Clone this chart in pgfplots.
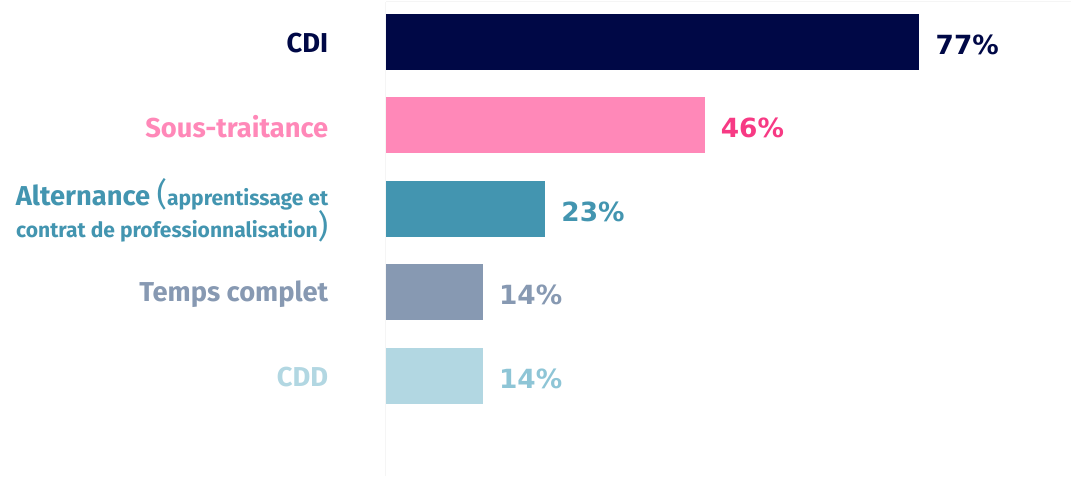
\documentclass[border=0pt]{standalone}
\usepackage{pgfplots}
\pgfplotsset{compat=1.18}
\usepackage{fontspec}
\setmainfont{Fira Sans}
\newfontfamily\valfont{DejaVu Sans}

\definecolor{cdi}{HTML}{000846}
\definecolor{sous}{HTML}{FF88B8}
\definecolor{sousval}{HTML}{F73A84}
\definecolor{alt}{HTML}{4395B0}
\definecolor{temps}{HTML}{8799B2}
\definecolor{cdd}{HTML}{B2D7E2}
\definecolor{cddval}{HTML}{8EC5D6}

\begin{document}
\begin{tikzpicture}
  \begin{axis}[
      xbar, scale only axis,
      width=513.75pt, height=355.5pt,
      xmin=0, xmax=98.8,
      ymin=-1.198, ymax=4.479,
      axis x line*=top, axis y line*=left,
      axis line style={draw=black!4, line width=0.75pt},
      xtick=\empty,
      ytick={0,1,2,3,4},
      yticklabels={
        \color{cdd}CDD,
        \color{temps}Temps complet,
        {\color{alt}Alternance {\fontsize{24}{24}\selectfont\mdseries(}{\fontsize{15.8}{24}\selectfont apprentissage et}\\\color{alt}{\fontsize{15.8}{24}\selectfont contrat de professionnalisation}{\fontsize{24}{24}\selectfont\mdseries)}},
        \color{sous}Sous-traitance,
        \color{cdi}CDI},
      major tick length=0pt,
      yticklabel style={anchor=east, inner sep=0pt, xshift=-43pt, yshift=-1pt, align=right,
        font=\bfseries\fontsize{20.5}{24}\selectfont},
      bar width=0.67, bar shift=0pt,
      point meta=x,
      nodes near coords={\pgfmathprintnumber{\pgfplotspointmeta}\%},
      nodes near coords style={anchor=west, inner sep=0pt, xshift=12pt, yshift=-2pt,
        font=\valfont\bfseries\fontsize{19.8}{20}\selectfont,
        /pgf/number format/assume math mode=true},
      clip=false
    ]
    % CDI
    \addplot[draw=none, fill=cdi, every node near coord/.append style={text=cdi}]
      coordinates {(77,4)};
    % Sous-traitance
    \addplot[draw=none, fill=sous, every node near coord/.append style={text=sousval}]
      coordinates {(46,3)};
    % Alternance
    \addplot[draw=none, fill=alt, every node near coord/.append style={text=alt}]
      coordinates {(23,2)};
    % Temps complet
    \addplot[draw=none, fill=temps, every node near coord/.append style={text=temps}]
      coordinates {(14,1)};
    % CDD
    \addplot[draw=none, fill=cdd, every node near coord/.append style={text=cddval}]
      coordinates {(14,0)};
  \end{axis}
  \path (current axis.north west) ++(-289.5pt,1.5pt);
\end{tikzpicture}
\end{document}
